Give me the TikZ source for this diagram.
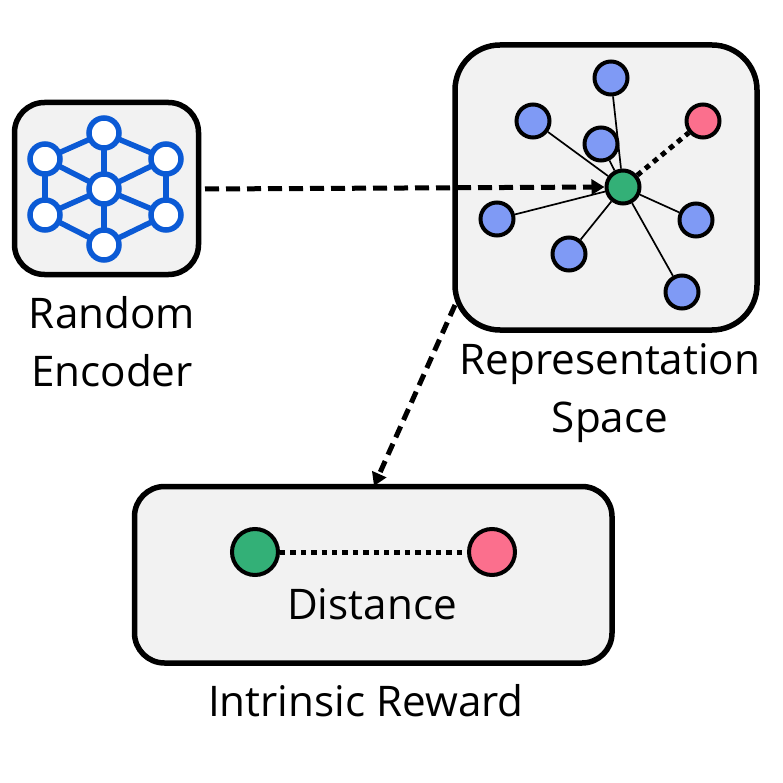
\documentclass[tikz,border=0pt]{standalone}
\usepackage{fontspec}
\setmainfont{Open Sans}
\usetikzlibrary{arrows.meta}
\definecolor{boxfill}{HTML}{F2F2F2}
\definecolor{bluept}{HTML}{7F9AF5}
\definecolor{pinkpt}{HTML}{FB6F8D}
\definecolor{greenpt}{HTML}{33B077}
\definecolor{netblue}{HTML}{0B5AD5}
\tikzset{
  x=1pt,y=-1pt,
  panel/.style={draw=black,line width=5.5pt,fill=boxfill},
  bluedot/.style={circle,draw=black,line width=4pt,fill=bluept,minimum size=33pt,inner sep=0pt},
  pinkdot/.style={circle,draw=black,line width=4pt,fill=pinkpt,minimum size=33pt,inner sep=0pt},
  greendot/.style={circle,draw=black,line width=4pt,fill=greenpt,minimum size=33pt,inner sep=0pt},
  bigdot/.style={circle,draw=black,line width=4pt,minimum size=46pt,inner sep=0pt},
  netdot/.style={circle,draw=netblue,line width=5.5pt,fill=white,minimum size=30pt,inner sep=0pt},
  netedge/.style={draw=netblue,line width=5.5pt},
  spoke/.style={draw=black,line width=1.7pt},
  dotline/.style={draw=black,line width=5pt,dash pattern=on 5.4pt off 5pt},
  dashline/.style={draw=black,line width=5pt,-{Triangle[length=13pt,width=15pt]}},
  label/.style={font=\fontsize{42.2pt}{58pt}\selectfont,align=center,inner sep=0pt}
}
\begin{document}
\begin{tikzpicture}
\useasboundingbox (0,0) rectangle (783,783);
% panels
\draw[panel,rounded corners=30pt] (14.5,102.5) rectangle (198.5,274.5);
\draw[panel,rounded corners=45pt] (455,45) rectangle (757,330);
\draw[panel,rounded corners=30pt] (134.5,486.5) rectangle (612,663);
% network icon
\foreach \n/\x/\y in {nt/104/133,nl/45/159,nr/166/159,nc/104/189,nll/45/215,nlr/166/215,nb/104/245}
  \coordinate (\n) at (\x,\y);
\foreach \a/\b in {nt/nl,nt/nr,nt/nc,nl/nc,nr/nc,nl/nll,nr/nlr,nc/nll,nc/nlr,nc/nb,nll/nb,nlr/nb}
  \draw[netedge] (\a) -- (\b);
\node[netdot] (dt) at (nt) {};
\node[netdot] (dl) at (nl) {};
\node[netdot] (dr) at (nr) {};
\node[netdot] (dc) at (nc) {};
\node[netdot] (dll) at (nll) {};
\node[netdot] (dlr) at (nlr) {};
\node[netdot] (db) at (nb) {};
% representation space
\node[greendot] (g) at (623,187) {};
\node[bluedot] (b1) at (611,78) {};
\node[bluedot] (b2) at (533,121) {};
\node[bluedot] (b3) at (601,144) {};
\node[bluedot] (b4) at (497,219) {};
\node[bluedot] (b5) at (569,254) {};
\node[bluedot] (b6) at (696,220) {};
\node[bluedot] (b7) at (682,292) {};
\node[pinkdot] (p) at (703,121) {};
\foreach \b in {b1,b2,b3,b4,b5,b6,b7}
  \draw[spoke] (\b) -- (g);
\draw[dotline] (g) -- (p);
% reward panel
\node[bigdot,fill=greenpt] (rg) at (255,552) {};
\node[bigdot,fill=pinkpt] (rp) at (492,552) {};
\draw[dotline] (rg) -- (rp);
% dashed arrows
\coordinate (a0) at (205,189);
\coordinate (a1) at (455,305);
\coordinate (a2) at (374,486);
\draw[dashline,dash pattern=on 14pt off 7pt] (a0) -- (g.west);
\draw[dashline,dash pattern=on 12pt off 7pt] (a1) -- (a2);
% labels
\node[label] (l1) at (112,342) {Random\\Encoder};
\node[label] (l2) at (610,393.5) {Representation\\Space};
\node[label] (l3) at (372,604) {Distance};
\node[label] (l4) at (366,701) {Intrinsic Reward};
\end{tikzpicture}
\end{document}
